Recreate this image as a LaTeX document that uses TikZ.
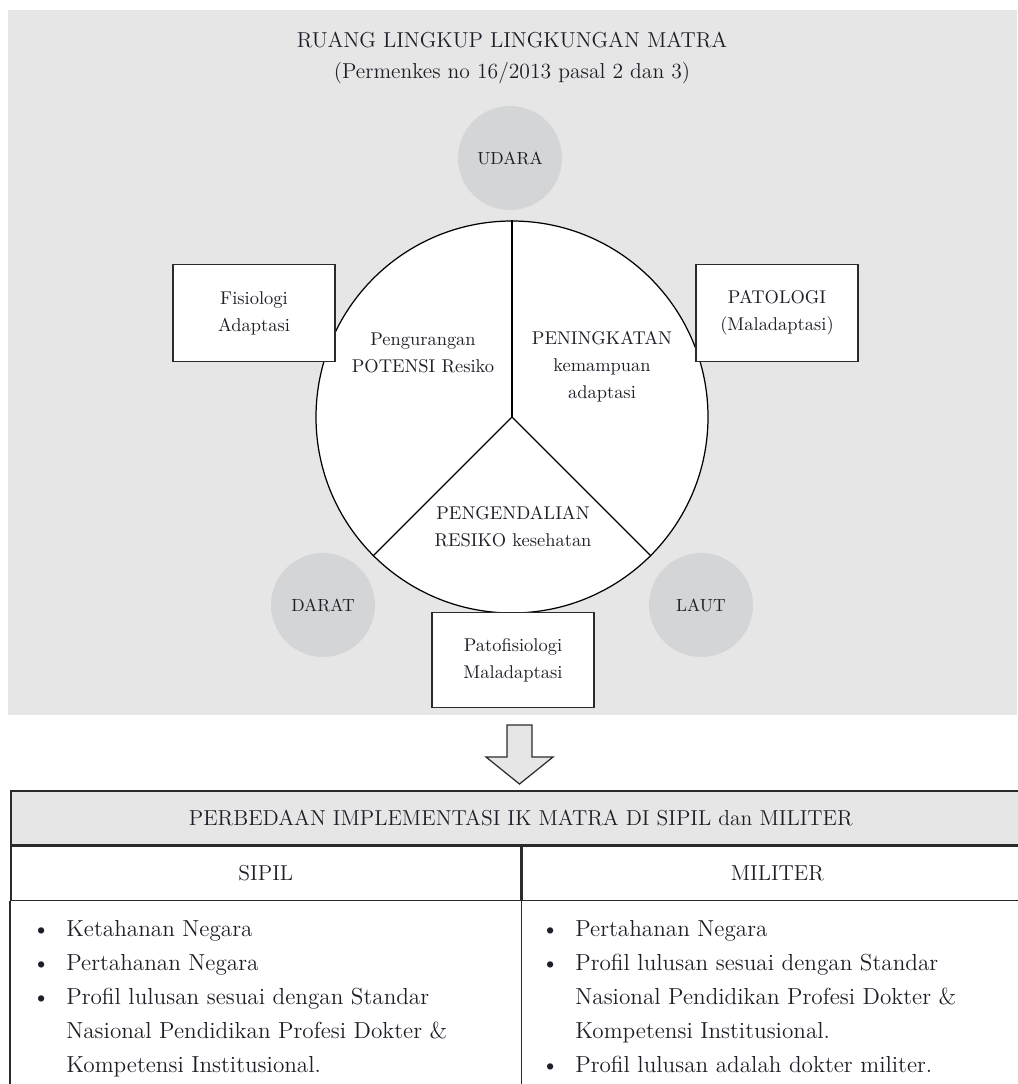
\documentclass[tikz,border=0pt]{standalone}
\usepackage{tikz}
\usetikzlibrary{positioning,shapes,calc}
\definecolor{mtPanel}{HTML}{E6E6E6}
\definecolor{mtZoneFill}{HTML}{D4D5D7}
\definecolor{mtLine}{HTML}{2B2B2B}
\definecolor{mtText}{HTML}{1E1E28}
\tikzset{
    mtBox/.style={
        rectangle,
        draw=mtLine,
        line width=0.9pt,
        fill=white,
        minimum width=32.4mm,
        minimum height=19.4mm,
        align=center,
        font=\fontsize{10.5}{15.4}\selectfont,
        text=mtText
    },
    mtZone/.style={
        circle,
        fill=mtZoneFill,
        minimum size=20.8mm,
        inner sep=0pt,
        font=\fontsize{10}{12}\selectfont,
        text=mtText
    },
    % Text inside the pie
    mtSector/.style={align=center, font=\fontsize{10.5}{15.4}\selectfont, text=mtText},
    mtDivide/.style={draw=black, line width=0.7pt},
    mtHead/.style={font=\fontsize{12.3}{15}\selectfont, text=mtText},
    % Table
    mtCell/.style={
        rectangle,
        draw=mtLine,
        line width=0.9pt,
        anchor=north west,
        minimum height=10.8mm,
        font=\fontsize{12.3}{15}\selectfont,
        text=mtText
    },
    mtList/.style={
        align=left,
        anchor=north west,
        inner sep=0pt,
        font=\fontsize{13.2}{19.3}\selectfont,
        text=mtText
    }
}
\newcommand{\mtItem}{\llap{\makebox[6.8mm][l]{\textbullet}}}

\begin{document}
\begin{tikzpicture}[x=0.2mm, y=-0.2mm]
\useasboundingbox (0,0) rectangle (1017,1084);
\fill[mtPanel] (8,10) rectangle (1017,715);

\node[mtHead] (title) at (512,40) {RUANG LINGKUP LINGKUNGAN MATRA};
\node[mtHead] (subtitle) at (512,73) {(Permenkes no 16/2013 pasal 2 dan 3)};

% the three environments
\node[mtZone] (udara) at (510,158) {UDARA};
\node[mtZone] (darat) at (323,605) {DARAT};
\node[mtZone] (laut) at (701,605) {LAUT};

% pie with three parts
\node[circle, draw=black, line width=0.7pt, fill=white, minimum size=78.4mm, inner sep=0pt] (pie) at (512,417) {};
\draw[mtDivide] (pie.center) -- (pie.north);
\draw[mtDivide] (pie.center) -- (pie.-135);
\draw[mtDivide] (pie.center) -- (pie.-45);

\node[mtSector] (pengurangan) at (423,353) {Pengurangan\\POTENSI Resiko};
\node[mtSector] (peningkatan) at (602,367) {PENINGKATAN\\kemampuan\\adaptasi};
\node[mtSector] (pengendalian) at (513,527) {PENGENDALIAN\\RESIKO kesehatan};

\node[mtBox] (fisiologi) at (254,313) {Fisiologi\\Adaptasi};
\node[mtBox] (patologi) at (777,313) {PATOLOGI\\(Maladaptasi)};
\node[mtBox, minimum height=19mm] (patofisiologi) at (513,660) {Patofisiologi\\Maladaptasi};

% block arrow down to the table
\coordinate (arrowtop) at (519.5,725);
\draw[draw=mtLine, fill=mtPanel, line width=0.7pt] (arrowtop) ++(-12.5,0) -- ++(25,0) -- ++(0,32) -- ++(21,0)
    -- ++(-33.5,27) -- ++(-33.5,-27) -- ++(21,0) -- cycle;

\node[mtCell, fill=mtPanel, minimum width=204mm] (tblhead) at (10,790) {PERBEDAAN IMPLEMENTASI IK MATRA DI SIPIL dan MILITER};
\node[mtCell, minimum width=102mm] (sipil) at (tblhead.south west) {SIPIL};
\node[mtCell, minimum width=102mm] (militer) at (sipil.north east) {MILITER};
\draw[draw=mtLine, line width=0.9pt] (sipil.south west) -- ++(0,200);
\draw[draw=mtLine, line width=0.9pt] (sipil.south east) -- ++(0,200);

\node[mtList] (sipilList) at (66,920) {\mtItem Ketahanan Negara\\
\mtItem Pertahanan Negara\\
\mtItem Profil lulusan sesuai dengan Standar\\
Nasional Pendidikan Profesi Dokter \&\\
Kompetensi Institusional.};
\node[mtList] (militerList) at (575,920) {\mtItem Pertahanan Negara\\
\mtItem Profil lulusan sesuai dengan Standar\\
Nasional Pendidikan Profesi Dokter \&\\
Kompetensi Institusional.\\
\mtItem Profil lulusan adalah dokter militer.};
\end{tikzpicture}
\end{document}
